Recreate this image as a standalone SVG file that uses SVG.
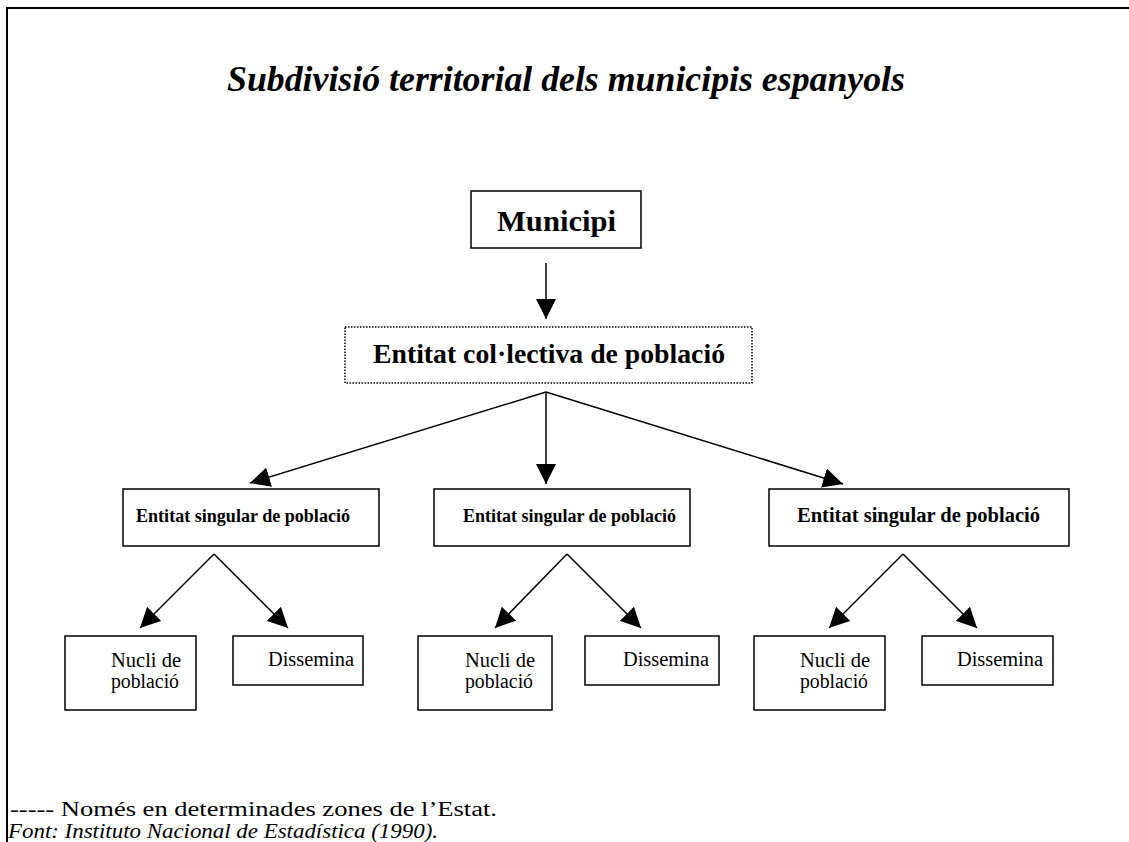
<svg xmlns="http://www.w3.org/2000/svg" width="1129" height="842" viewBox="0 0 1129 842">
<style>
  .box { fill: #fff; stroke: #000; stroke-width: 1.5; }
  .dot { fill: #fff; stroke: #000; stroke-width: 1.5; stroke-dasharray: 1.5 1.5; }
  .conn { stroke: #000; stroke-width: 1.5; fill: none; marker-end: url(#ah); }
  text { font-family: "Liberation Serif", "Times New Roman", serif; fill: #000; }
  .b { font-weight: bold; }
  .bi { font-weight: bold; font-style: italic; }
  .i { font-style: italic; }
</style>
<defs>
  <marker id="ah" markerUnits="userSpaceOnUse" markerWidth="20" markerHeight="20" refX="20" refY="10" orient="auto" viewBox="0 0 20 20">
    <path d="M0,0 L20,10 L0,20 z" fill="#000"/>
  </marker>
</defs>
<rect width="1129" height="842" fill="#fff"/>
<path d="M7,842 V8 H1129" fill="none" stroke="#000" stroke-width="2"/>
<text id="title" class="bi" x="227" y="91" font-size="36" textLength="678" lengthAdjust="spacingAndGlyphs">Subdivisió territorial dels municipis espanyols</text>

<g id="municipi">
  <rect class="box" x="471" y="191" width="170" height="57"/>
  <text class="b" x="497" y="231" font-size="30" textLength="119" lengthAdjust="spacingAndGlyphs">Municipi</text>
</g>
<g id="colectiva">
  <rect class="dot" x="345" y="327" width="407" height="56"/>
  <text class="b" x="373" y="363" font-size="28" textLength="352" lengthAdjust="spacingAndGlyphs">Entitat col·lectiva de població</text>
</g>
<g id="singular1">
  <rect class="box" x="123" y="489" width="256" height="57"/>
  <text class="b" x="136" y="522" font-size="18" textLength="214" lengthAdjust="spacingAndGlyphs">Entitat singular de població</text>
</g>
<g id="singular2">
  <rect class="box" x="434" y="489" width="256" height="57"/>
  <text class="b" x="463" y="522" font-size="18" textLength="213" lengthAdjust="spacingAndGlyphs">Entitat singular de població</text>
</g>
<g id="singular3">
  <rect class="box" x="769" y="489" width="300" height="57"/>
  <text class="b" x="797" y="522" font-size="20" textLength="243" lengthAdjust="spacingAndGlyphs">Entitat singular de població</text>
</g>

<g id="nucli1">
  <rect class="box" x="65" y="636" width="131" height="74"/>
  <text x="111" y="667" font-size="20" textLength="70" lengthAdjust="spacingAndGlyphs">Nucli de</text>
  <text x="111" y="688" font-size="20" textLength="68" lengthAdjust="spacingAndGlyphs">població</text>
</g>
<g id="dissemina1">
  <rect class="box" x="233" y="636" width="130" height="49"/>
  <text x="268" y="666" font-size="20" textLength="86" lengthAdjust="spacingAndGlyphs">Dissemina</text>
</g>
<g id="nucli2">
  <rect class="box" x="418" y="636" width="134" height="74"/>
  <text x="465" y="667" font-size="20" textLength="70" lengthAdjust="spacingAndGlyphs">Nucli de</text>
  <text x="465" y="688" font-size="20" textLength="68" lengthAdjust="spacingAndGlyphs">població</text>
</g>
<g id="dissemina2">
  <rect class="box" x="585" y="636" width="134" height="49"/>
  <text x="623" y="666" font-size="20" textLength="86" lengthAdjust="spacingAndGlyphs">Dissemina</text>
</g>
<g id="nucli3">
  <rect class="box" x="754" y="636" width="131" height="74"/>
  <text x="800" y="667" font-size="20" textLength="70" lengthAdjust="spacingAndGlyphs">Nucli de</text>
  <text x="800" y="688" font-size="20" textLength="68" lengthAdjust="spacingAndGlyphs">població</text>
</g>
<g id="dissemina3">
  <rect class="box" x="922" y="636" width="131" height="49"/>
  <text x="957" y="666" font-size="20" textLength="86" lengthAdjust="spacingAndGlyphs">Dissemina</text>
</g>

<g id="connectors">
  <line class="conn" x1="546" y1="263" x2="546" y2="319"/>
  <line class="conn" x1="546" y1="392" x2="250" y2="483"/>
  <line class="conn" x1="546" y1="392" x2="546" y2="484"/>
  <line class="conn" x1="546" y1="392" x2="843" y2="484"/>
  <line class="conn" x1="214" y1="554" x2="140" y2="628"/>
  <line class="conn" x1="214" y1="554" x2="288" y2="628"/>
  <line class="conn" x1="567" y1="554" x2="495" y2="628"/>
  <line class="conn" x1="567" y1="554" x2="641" y2="628"/>
  <line class="conn" x1="903" y1="554" x2="829" y2="628"/>
  <line class="conn" x1="903" y1="554" x2="977" y2="628"/>
</g>

<g id="footer">
  <text x="10" y="816" font-size="20" textLength="487" lengthAdjust="spacingAndGlyphs">----- Només en determinades zones de l’Estat.</text>
  <text class="i" x="8" y="838" font-size="20" textLength="430" lengthAdjust="spacingAndGlyphs">Font: Instituto Nacional de Estadística (1990).</text>
</g>
</svg>
